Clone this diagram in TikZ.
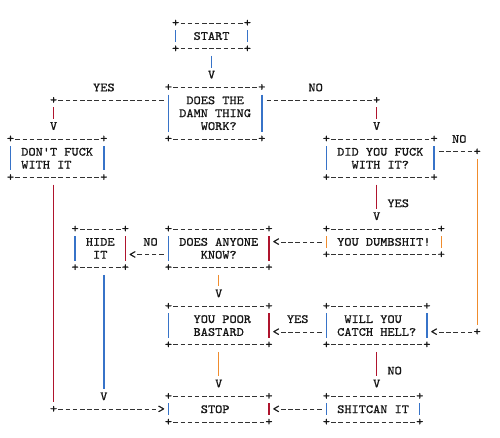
\documentclass[tikz,border=0pt]{standalone}
\usepackage{fontspec}
\newfontfamily\mono[FakeStretch=1.094,FakeBold=0.8,Ligatures=TeXOff]{lmmono10-regular.otf}
\definecolor{cblue}{RGB}{55,115,200}
\definecolor{cred}{RGB}{175,20,45}
\definecolor{corange}{RGB}{240,140,45}
\definecolor{ink}{RGB}{20,20,20}
\definecolor{dashc}{RGB}{50,50,50}
\newcommand\bl{\hphantom{X}}
\tikzset{
  glyph/.style={font=\mono\fontsize{12.5}{12.87}\selectfont, text=ink, inner sep=0pt, outer sep=0pt},
  boxn/.style={glyph, align=left, anchor=center},
  hd/.style={draw=dashc, line width=0.85pt, dash pattern=on 4.6pt off 2.58pt, shorten <=4.88pt, shorten >=4.88pt},
  vb/.style={line width=1.4pt, shorten <=7.1pt, shorten >=7.1pt}
}
% name, c0, r0, c1, r1, left colour, right colour, text
\newcommand\asciibox[8]{%
  \node[boxn, minimum width={(#4-#2)*7.18pt}, minimum height={(#5-#3)*12.87pt}] (#1) at ({(#2+#4)/2},{(#3+#5)/2}) {#8};
  \draw[hd] (#1.north west) -- (#1.north east);
  \draw[hd] (#1.south west) -- (#1.south east);
  \draw[vb,draw=#6] (#1.north west) -- (#1.south west);
  \draw[vb,draw=#7] (#1.north east) -- (#1.south east);
  \foreach \a in {north west,north east,south west,south east}{\node[glyph] (#1-\a) at (#1.\a) {+};}
}
\begin{document}
\begin{tikzpicture}[x=7.18pt, y=-12.87pt]
\fill[white] (-10.5pt,23.13pt) rectangle (489.5pt,-413.87pt);
\useasboundingbox (-10.5pt,23.13pt) rectangle (489.5pt,-413.87pt);

% boxes
\asciibox{start}{23}{0}{33}{2}{cblue}{cblue}{\bl\bl START\bl\bl}
\asciibox{does}{22}{5}{35}{9}{cblue}{cblue}{\bl\bl DOES\bl THE\bl\bl\\\bl DAMN\bl THING\bl\\\bl\bl\bl\bl WORK?\bl\bl\bl}
\asciibox{dont}{0}{9}{13}{12}{cblue}{cblue}{\bl DON'T\bl FUCK\bl\\\bl WITH\bl IT\bl\bl\bl\bl}
\asciibox{did}{44}{9}{59}{12}{cblue}{cblue}{\bl DID\bl YOU\bl FUCK\bl\\\bl\bl\bl WITH\bl IT?\bl\bl\bl}
\asciibox{hide}{9}{16}{16}{19}{cblue}{cred}{\bl HIDE\bl\\\bl\bl IT\bl\bl}
\asciibox{anyone}{22}{16}{36}{19}{cblue}{cred}{\bl DOES\bl ANYONE\bl\\\bl\bl\bl\bl KNOW?\bl\bl\bl\bl}
\asciibox{dumb}{44}{16}{60}{18}{corange}{corange}{\bl YOU\bl DUMBSHIT!\bl}
\asciibox{poor}{22}{22}{36}{25}{cblue}{cred}{\bl\bl\bl YOU\bl POOR\bl\bl\\\bl\bl\bl BASTARD\bl\bl\bl}
\asciibox{catch}{44}{22}{58}{25}{cblue}{cblue}{\bl\bl WILL\bl YOU\bl\bl\bl\\\bl CATCH\bl HELL?\bl}
\asciibox{stop}{22}{29}{36}{31}{cblue}{cred}{\bl\bl\bl\bl STOP\bl\bl\bl\bl\bl}
\asciibox{shit}{44}{29}{57}{31}{cblue}{cblue}{\bl SHITCAN\bl IT\bl}

% start -> does
\node[glyph] (v1) at (start.south |- 0,4) {V};
\draw[vb,draw=cblue] (start.south) -- (v1.center);

% does -> dont (YES)
\node[glyph] (p1) at (6,6) {+};
\draw[hd] (does.west |- p1) -- (p1.center);
\node[glyph] (v2) at (6,8) {V};
\draw[vb,draw=cred] (p1.center) -- (v2.center);
\node[glyph] (lyes1) at (13,5) {YES};

% does -> did (NO)
\node[glyph] (p2) at (51,6) {+};
\draw[hd] (does.east |- p2) -- (p2.center);
\node[glyph] (v3) at (51,8) {V};
\draw[vb,draw=cred] (p2.center) -- (v3.center);
\node[glyph] (lno1) at (42.5,5) {NO};

% did -> dumb (YES)
\node[glyph] (v4) at (51,15) {V};
\draw[vb,draw=cred] (did.south -| v4) -- (v4.center);
\node[glyph] (lyes2) at (54,14) {YES};

% did -> catch (NO)
\node[glyph] (p3) at (65,10) {+};
\draw[hd] (did.east |- p3) -- (p3.center);
\node[glyph] (p4) at (65,24) {+};
\draw[vb,draw=corange] (p3.center) -- (p4.center);
\node[glyph] (a1) at (59,24) {<};
\draw[hd] (p4.center) -- (a1.center);
\node[glyph] (lno2) at (62.5,9) {NO};

% dumb -> anyone
\node[glyph] (a2) at (37,17) {<};
\draw[hd] (dumb.west) -- (a2.center);

% anyone -> hide (NO)
\node[glyph] (a3) at (17,18) {<};
\draw[hd] (anyone.west |- a3) -- (a3.center);
\node[glyph] (lno3) at (19.5,17) {NO};

% anyone -> poor
\node[glyph] (v5) at (29,21) {V};
\draw[vb,draw=corange] (anyone.south) -- (v5.center);

% catch -> poor (YES)
\node[glyph] (a4) at (37,24) {<};
\draw[hd] (catch.west |- a4) -- (a4.center);
\node[glyph] (lyes3) at (40,23) {YES};

% catch -> shit (NO)
\node[glyph] (v6) at (51,28) {V};
\draw[vb,draw=cred] (catch.south) -- (v6.center);
\node[glyph] (lno4) at (53.5,27) {NO};

% poor -> stop
\node[glyph] (v7) at (29,28) {V};
\draw[vb,draw=corange] (poor.south) -- (v7.center);

% hide -> stop
\node[glyph] (v8) at (13,29) {V};
\draw[vb,draw=cblue] (hide.south -| v8) -- (v8.center);

% dont -> stop
\node[glyph] (p5) at (6,30) {+};
\draw[vb,draw=cred] (dont.south -| p5) -- (p5.center);
\node[glyph] (a5) at (21,30) {>};
\draw[hd] (p5.center) -- (a5.center);

% shit -> stop
\node[glyph] (a6) at (37,30) {<};
\draw[hd] (shit.west) -- (a6.center);
\end{tikzpicture}
\end{document}
